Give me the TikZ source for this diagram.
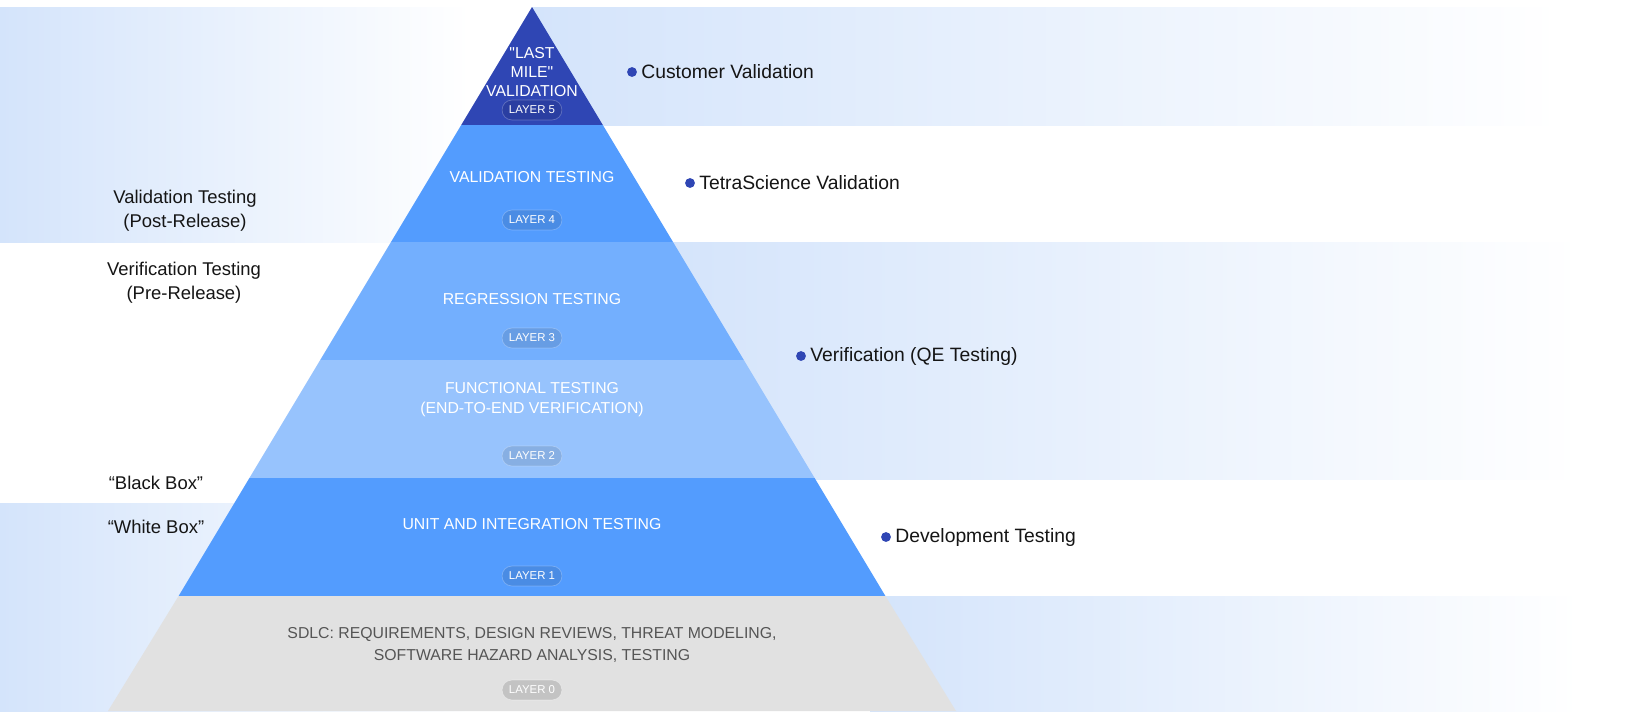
\documentclass[tikz,border=0pt]{standalone}
\usepackage{fontspec}
\setmainfont{Liberation Sans}
\newfontfamily\plainquotefont{Liberation Sans}[Ligatures=TeXOff]
\definecolor{bandblue}{HTML}{D4E4FB}
\definecolor{lfive}{HTML}{2F46B4}
\definecolor{lfour}{HTML}{539CFE}
\definecolor{lthree}{HTML}{73AFFE}
\definecolor{ltwo}{HTML}{97C3FD}
\definecolor{lzero}{HTML}{E1E1E1}
\definecolor{dotblue}{HTML}{2F46B4}
\definecolor{labeltext}{HTML}{151515}
\definecolor{greytext}{HTML}{555555}
\begin{document}
\begin{tikzpicture}[x=0.02cm,y=-0.02cm,
  layertext/.style={text=white, font=\fontsize{9}{10.8}\selectfont, align=center, inner sep=0pt},
  basetext/.style={text=greytext, font=\fontsize{9}{12.5}\selectfont, align=center, inner sep=0pt},
  pill/.style={rounded corners=5.5pt, minimum width=34pt, minimum height=11.3pt, inner sep=0pt,
     fill=black, fill opacity=0.1, draw=white, draw opacity=0.25, text opacity=1, text=white,
     font=\fontsize{6.5}{7}\selectfont},
  pillzero/.style={pill, fill=black, fill opacity=0.13, draw=white, draw opacity=0.4},
  dotnode/.style={circle, fill=dotblue, minimum size=5.6pt, inner sep=0pt},
  rlabel/.style={text=labeltext, font=\fontsize{11}{13.6}\selectfont, anchor=west, inner sep=0pt},
  llabel/.style={text=labeltext, font=\fontsize{10.5}{13.6}\selectfont, align=center, inner sep=0pt}]
\useasboundingbox (0,0) rectangle (1627,711);
\fill[white] (0,0) rectangle (1627,711);
% background bands
\shade[left color=bandblue, right color=white] (0,7) rectangle (470,242);
\shade[left color=bandblue, right color=white] (0,503) rectangle (470,711);
\shade[left color=bandblue, right color=white] (532,7) rectangle (1560,125);
\shade[left color=bandblue, right color=white] (660,242) rectangle (1580,479);
\shade[left color=bandblue, right color=white] (870,596) rectangle (1580,711);
% pyramid layers
\fill[lfive] (532,7) -- (602.8,125) -- (461.2,125) -- cycle;
\fill[lfour] (461.2,125) -- (602.8,125) -- (673,242) -- (391,242) -- cycle;
\fill[lthree] (391,242) -- (673,242) -- (743.8,360) -- (320.2,360) -- cycle;
\fill[ltwo] (320.2,360) -- (743.8,360) -- (814.6,478) -- (249.4,478) -- cycle;
\fill[lfour] (249.4,478) -- (814.6,478) -- (885.4,596) -- (178.6,596) -- cycle;
\fill[lzero] (178.6,596) -- (885.4,596) -- (956,711) -- (108,711) -- cycle;
% layer texts
\node[layertext, font=\plainquotefont\fontsize{9}{10.8}\selectfont] (t5) at (532,72) {"LAST\\MILE"\\VALIDATION};
\node[pill] (p5) at (532,110) {LAYER 5};
\node[layertext] (t4) at (532,177) {VALIDATION TESTING};
\node[pill] (p4) at (532,220) {LAYER 4};
\node[layertext] (t3) at (532,299) {REGRESSION TESTING};
\node[pill] (p3) at (532,338) {LAYER 3};
\node[layertext, font=\fontsize{9}{11.3}\selectfont] (t2) at (532,400) {FUNCTIONAL TESTING\\(END-TO-END VERIFICATION)};
\node[pill] (p2) at (532,456) {LAYER 2};
\node[layertext] (t1) at (532,524) {UNIT AND INTEGRATION TESTING};
\node[pill] (p1) at (532,576) {LAYER 1};
\node[basetext] (t0) at (532,645) {SDLC: REQUIREMENTS, DESIGN REVIEWS, THREAT MODELING,\\SOFTWARE HAZARD ANALYSIS, TESTING};
\node[pillzero] (p0) at (532,690) {LAYER 0};
% right labels
\node[dotnode] (d5) at (632,72) {};
\node[rlabel] (r5) at (641,72) {Customer Validation};
\node[dotnode] (d4) at (690,183) {};
\node[rlabel] (r4) at (699,183) {TetraScience Validation};
\node[dotnode] (d3) at (801,356) {};
\node[rlabel] (r3) at (810,356) {Verification (QE Testing)};
\node[dotnode] (d1) at (886,537) {};
\node[rlabel] (r1) at (895,537) {Development Testing};
% left labels
\node[llabel] (lpost) at (185,211) {Validation Testing\\(Post-Release)};
\node[llabel] (lpre) at (184,283) {Verification Testing\\(Pre-Release)};
\node[llabel] (lblack) at (156,483) {“Black Box”};
\node[llabel] (lwhite) at (156,527) {“White Box”};
\end{tikzpicture}
\end{document}
